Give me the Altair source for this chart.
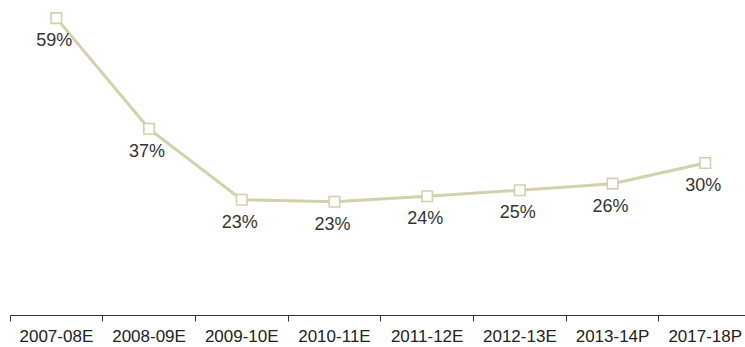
import altair as alt
import pandas as pd

categories = ["2007-08E", "2008-09E", "2009-10E", "2010-11E",
              "2011-12E", "2012-13E", "2013-14P", "2017-18P"]
values = [59.0, 37.0, 22.9, 22.5, 23.6, 24.8, 26.1, 30.2]
labels = ["59%", "37%", "23%", "23%", "24%", "25%", "26%", "30%"]

df = pd.DataFrame({"period": categories, "value": values, "label": labels})

LINE = "#d3d0ac"
BAND = 92.7

x = alt.X("period:N", sort=categories,
          scale=alt.Scale(type="band", paddingInner=0, paddingOuter=0,
                          range=[0, BAND * 8]),
          axis=alt.Axis(title=None, bandPosition=0,
                        labelAngle=0, labelFont="Liberation Sans",
                        labelFontSize=17, labelColor="#222222",
                        labelPadding=7, tickSize=6, tickColor="#333333",
                        domainColor="#333333", domainWidth=1.2,
                        grid=False))
y = alt.Y("value:Q", scale=alt.Scale(domain=[0, 62.6], nice=False),
          axis=None)

base = alt.Chart(df).encode(x=x, y=y)

line = base.mark_line(color=LINE, strokeWidth=3)
pts = base.mark_point(shape="square", size=110, fill="white",
                      fillOpacity=1, stroke=LINE, strokeWidth=1.6,
                      opacity=1)
txt = base.mark_text(dy=23, dx=-2, font="Liberation Sans", fontSize=18,
                     color="#333333", baseline="middle").encode(text="label:N")

chart = (line + pts + txt).properties(
    width=735, height=315,
    autosize=alt.AutoSizeParams(type="none"),
    padding={"left": 10, "top": 0, "right": 0, "bottom": 32},
).configure_view(strokeWidth=0)

chart.save("out.html", embed_options={"renderer": "svg", "actions": False})
